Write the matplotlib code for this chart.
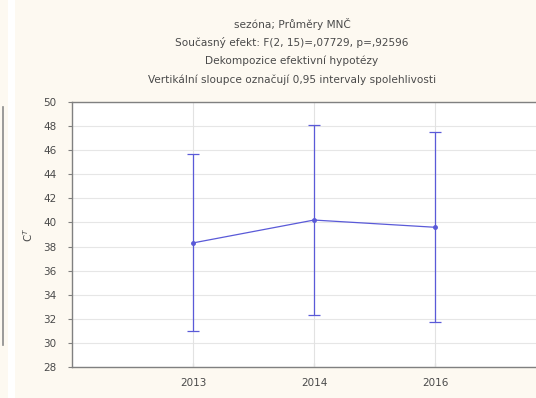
import numpy as np
import matplotlib.pyplot as plt
from matplotlib.patches import Rectangle
from matplotlib.lines import Line2D

years = ['2013', '2014', '2016']
means = [38.3, 40.2, 39.6]
lower = [31.0, 32.3, 31.7]
upper = [45.7, 48.1, 47.5]

titles = ['sezóna; Průměry MNČ',
          'Současný efekt: F(2, 15)=,07729, p=,92596',
          'Dekompozice efektivní hypotézy',
          'Vertikální sloupce označují 0,95 intervaly spolehlivosti']

bg = '#fdf9f1'
txt = '#4a4a4a'
blue = '#5a5ad8'

fig = plt.figure(figsize=(5.36, 3.98), dpi=100, facecolor=bg)

# strip from neighbouring panel on the left edge
fig.patches.append(Rectangle((8 / 536, 0), 7 / 536, 1, transform=fig.transFigure,
                             facecolor='white', edgecolor='none', zorder=0))
fig.lines.append(Line2D([3 / 536, 3 / 536], [1 - 107 / 398, 1 - 345 / 398],
                        transform=fig.transFigure, color='#8a8a8a', lw=1.2))

ax = fig.add_axes([72 / 536, 1 - 367 / 398, 484 / 536, 265 / 398])
ax.set_facecolor('white')

x = np.arange(len(years))
m = np.array(means)
err = [m - np.array(lower), np.array(upper) - m]
ax.errorbar(x, m, yerr=err, color=blue, lw=0.9, marker='o', ms=2.5,
            capsize=4, capthick=0.9, elinewidth=0.9, zorder=3)

ax.set_xlim(-1, 3)
ax.set_ylim(28, 50)
ax.set_yticks(np.arange(28, 51, 2))
ax.set_xticks(x)
ax.set_xticklabels(years)
ax.grid(True, axis='y', color='#e6e6e6', lw=0.8)
for xi in x:
    ax.axvline(xi, color='#e2e2e2', lw=0.8, zorder=1)
ax.set_axisbelow(True)

for s in ax.spines.values():
    s.set_color('#808080')
    s.set_linewidth(1.0)
ax.tick_params(axis='x', labelsize=7.5, colors='#808080', labelcolor=txt,
               length=3, width=0.8, direction='in', pad=8)
ax.tick_params(axis='y', labelsize=7.5, colors='#808080', labelcolor=txt,
               length=3, width=0.8, direction='out', pad=8)

ax.set_ylabel('C$^T$', fontsize=7.5, color=txt)
ax.yaxis.set_label_coords(-37 / 484, 0.5)

for i, t in enumerate(titles):
    fig.text(292 / 536, 1 - (24 + 18.5 * i) / 398, t, ha='center', va='center',
             fontsize=7.6, color=txt)

fig.savefig('out.png', dpi=100, facecolor=bg)
